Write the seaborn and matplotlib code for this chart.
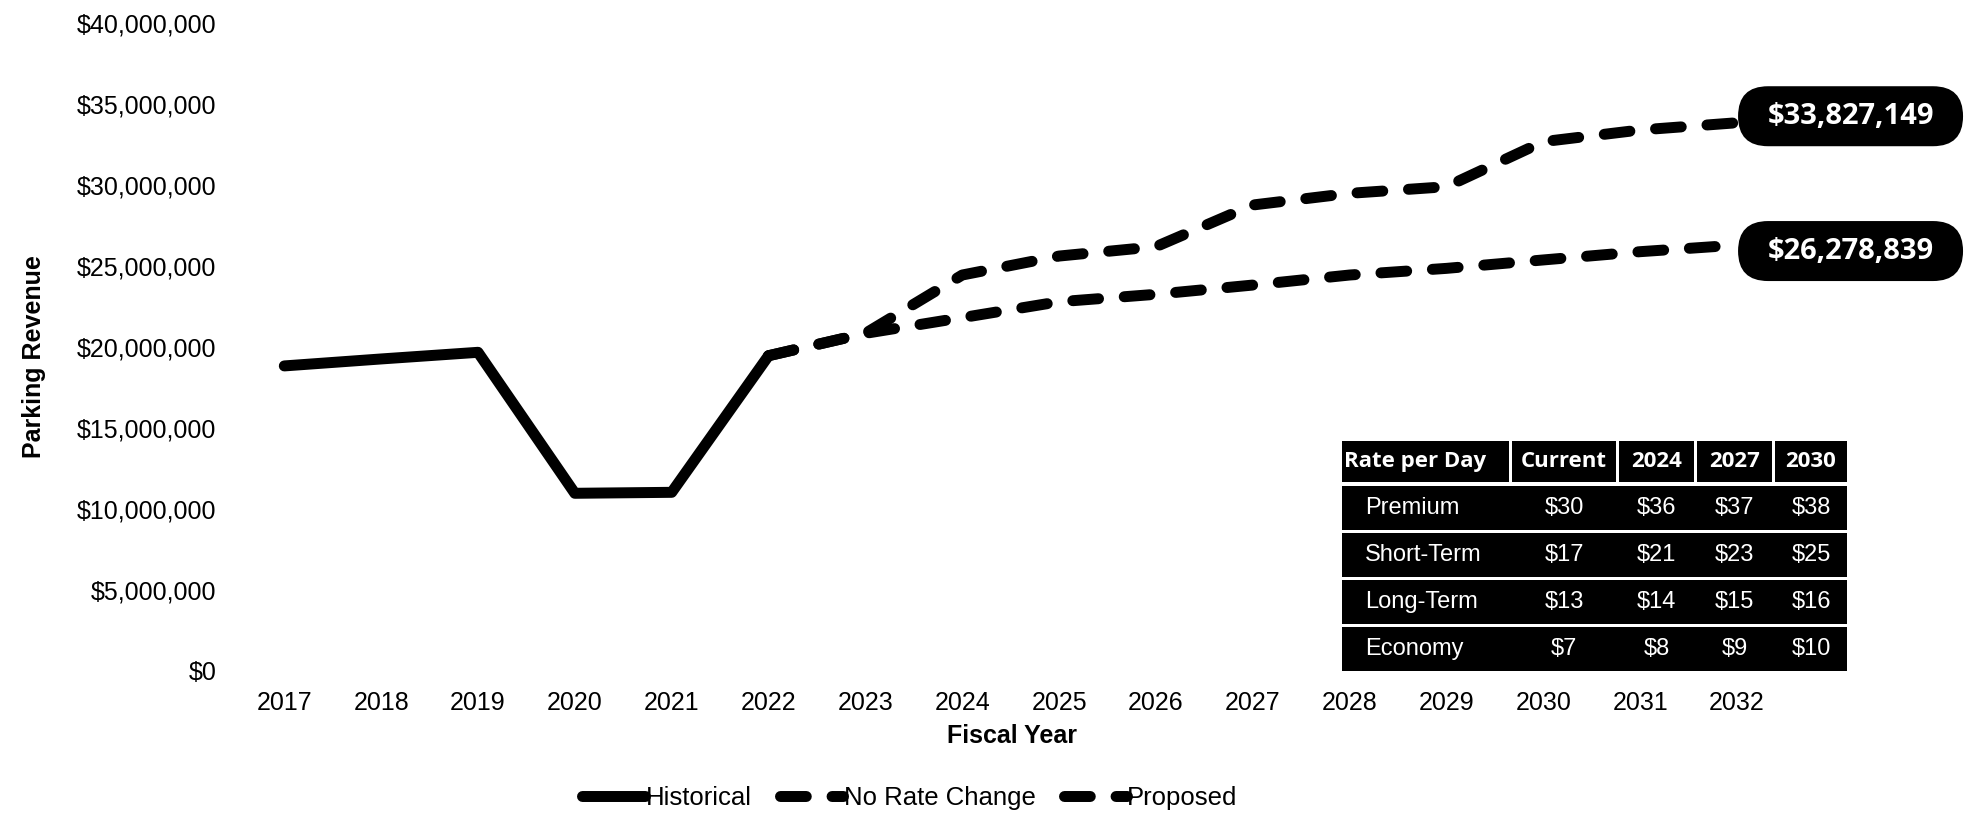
import matplotlib
matplotlib.use("Agg")
import matplotlib.pyplot as plt
import pandas as pd
import seaborn as sns
from matplotlib.patches import FancyBboxPatch, Rectangle
from matplotlib.ticker import FuncFormatter

# ---- data ----
hist_years = [2017, 2018, 2019, 2020, 2021, 2022]
hist_revenue = [18_820_000, 19_250_000, 19_660_000, 10_960_000, 11_020_000, 19_450_000]

proj_years = [2022, 2023, 2024, 2025, 2026, 2027, 2028, 2029, 2030, 2031, 2032]
no_rate_change = [19_450_000, 20_830_000, 21_800_000, 22_780_000, 23_240_000, 23_810_000,
                  24_430_000, 24_840_000, 25_360_000, 25_870_000, 26_278_839]
proposed = [19_450_000, 20_830_000, 24_430_000, 25_600_000, 26_180_000, 28_750_000,
            29_470_000, 29_880_000, 32_660_000, 33_380_000, 33_827_149]

x_ticks = list(range(2017, 2033))
y_ticks = [0, 5_000_000, 10_000_000, 15_000_000, 20_000_000, 25_000_000,
           30_000_000, 35_000_000, 40_000_000]

table_header = ["Rate per Day", "Current", "2024", "2027", "2030"]
rate_classes = ["Premium", "Short-Term", "Long-Term", "Economy"]
rate_current = [30, 17, 13, 7]
rate_2024 = [36, 21, 14, 8]
rate_2027 = [37, 23, 15, 9]
rate_2030 = [38, 25, 16, 10]

hist_df = pd.DataFrame({"year": hist_years, "revenue": hist_revenue})
proj_df = pd.DataFrame({"year": proj_years, "no_change": no_rate_change, "proposed": proposed})

# ---- style ----
sns.set_theme(style="white")
plt.rcParams["font.family"] = ["Liberation Sans", "DejaVu Sans"]
for key in ("text.color", "axes.labelcolor", "xtick.color", "ytick.color"):
    plt.rcParams[key] = "black"

W, H = 1981, 816
fig = plt.figure(figsize=(W / 100, H / 100), dpi=100)
fig.patch.set_facecolor("white")

ax_left, ax_right = 235, 1975
y_zero, y_top = 670.9, 22.7
ax = fig.add_axes([ax_left / W, (H - y_zero) / H, (ax_right - ax_left) / W, (y_zero - y_top) / H])

lw = 7.9
dash = (0, (2.35, 2.35))

sns.lineplot(data=hist_df, x="year", y="revenue", ax=ax, color="black", linewidth=lw,
             solid_capstyle="round", solid_joinstyle="round", label="Historical", legend=False)
sns.lineplot(data=proj_df, x="year", y="no_change", ax=ax, color="black", linewidth=lw,
             linestyle=dash, dash_capstyle="round", dash_joinstyle="round",
             label="No Rate Change", legend=False)
sns.lineplot(data=proj_df, x="year", y="proposed", ax=ax, color="black", linewidth=lw,
             linestyle=dash, dash_capstyle="round", dash_joinstyle="round",
             label="Proposed", legend=False)

step = 96.85
x0 = 284.3
ax.set_xlim(2017 + (ax_left - x0) / step, 2017 + (ax_right - x0) / step)
ax.set_ylim(0, 40_000_000)
ax.set_xticks(x_ticks)
ax.set_yticks(y_ticks)
ax.yaxis.set_major_formatter(FuncFormatter(lambda v, p: f"${v:,.0f}"))
ax.tick_params(axis="both", labelsize=18, length=0, colors="black")
ax.tick_params(axis="y", pad=13.5)
ax.tick_params(axis="x", pad=14.5)
for s in ax.spines.values():
    s.set_visible(False)
ax.grid(False)

ax.set_xlabel("Fiscal Year", fontsize=18, fontweight="bold", color="black")
ax.set_ylabel("Parking Revenue", fontsize=18, fontweight="bold", color="black")
ax.xaxis.set_label_coords((1012 - ax_left) / (ax_right - ax_left), (y_zero - 724) / (y_zero - y_top))
ax.yaxis.set_label_coords((46 - ax_left) / (ax_right - ax_left), (y_zero - 357) / (y_zero - y_top))

handles, labels = ax.get_legend_handles_labels()
fig.legend(handles, labels, loc="center", bbox_to_anchor=(910 / W, (H - 798) / H), ncol=3,
           frameon=False, fontsize=18.5, handlelength=2.45, handletextpad=0.02,
           columnspacing=1.1, labelcolor="black")

# ---- overlay in pixel coordinates for end labels and the rate table ----
ov = fig.add_axes([0, 0, 1, 1])
ov.set_xlim(0, W)
ov.set_ylim(0, H)
ov.axis("off")
ov.patch.set_alpha(0)


def to_pix(x, y):
    px, py = ax.transData.transform((x, y))
    return px, py


pill_w, pill_h = 225, 60
for series, shift in ((proposed, 6.5), (no_rate_change, -6)):
    px, py = to_pix(proj_years[-1], series[-1])
    cy = py + shift
    ov.add_patch(FancyBboxPatch((px + 1, cy - pill_h / 2), pill_w, pill_h,
                                boxstyle=f"round,pad=0,rounding_size={pill_h / 2}",
                                facecolor="black", edgecolor="none", zorder=5))
    ov.text(px + 1 + pill_w / 2, cy, f"${series[-1]:,.0f}", color="white", fontsize=21,
            fontweight="bold", family=["Open Sans", "DejaVu Sans"],
            ha="center", va="center", zorder=6)

# rate table
col_edges = [(1342, 1509), (1512, 1616), (1619, 1694), (1697, 1772), (1775, 1847)]
head_top, head_bot = 441, 482
for i, (l, r) in enumerate(col_edges):
    ov.add_patch(Rectangle((l, H - head_bot), r - l, head_bot - head_top,
                           facecolor="black", edgecolor="none"))
    if i == 0:
        ov.text(l + 2, H - (head_top + head_bot) / 2, table_header[i], color="white",
                fontsize=16, fontweight="bold", family=["Open Sans", "DejaVu Sans"],
                ha="left", va="center")
    else:
        ov.text((l + r) / 2, H - (head_top + head_bot) / 2, table_header[i], color="white",
                fontsize=16, fontweight="bold", family=["Open Sans", "DejaVu Sans"],
                ha="center", va="center")

row_tops = [486, 533, 580, 627]
row_h = 44
value_cols = [rate_current, rate_2024, rate_2027, rate_2030]
for j, top in enumerate(row_tops):
    ov.add_patch(Rectangle((col_edges[0][0], H - top - row_h), col_edges[-1][1] - col_edges[0][0],
                           row_h, facecolor="black", edgecolor="none"))
    cy = H - top - row_h / 2
    ov.text(1365, cy, rate_classes[j], color="white", fontsize=17, ha="left", va="center")
    for k, vals in enumerate(value_cols):
        l, r = col_edges[k + 1]
        ov.text((l + r) / 2, cy, f"${vals[j]}", color="white", fontsize=17,
                ha="center", va="center")

fig.savefig("out.png", dpi=100, facecolor="white")
